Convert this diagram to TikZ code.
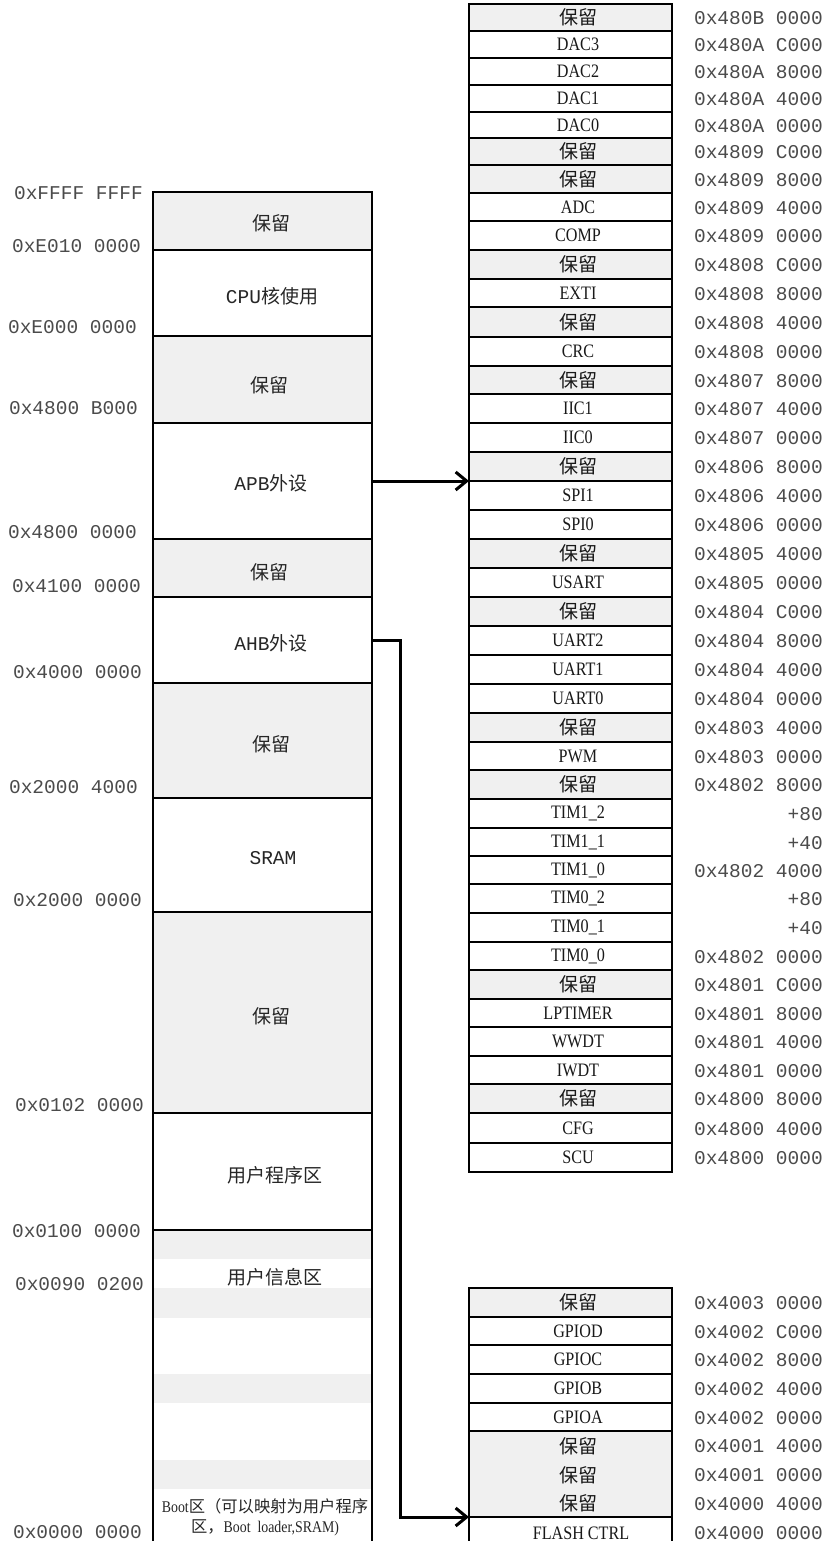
\documentclass[tikz,border=0pt]{standalone}
\usepackage{fontspec}
\setmainfont{Liberation Serif}
\setmonofont{Liberation Mono}
\newfontfamily\cjk{Noto Sans CJK SC}
\newfontfamily\nserif[FakeStretch=0.85]{Liberation Serif}
\usetikzlibrary{arrows.meta}
\definecolor{resv}{RGB}{240,240,240}
\definecolor{addrc}{RGB}{75,75,75}
\newcommand\rz{{\cjk\fontsize{19}{20}\selectfont 保留}}
\newcommand\cn[1]{{\cjk\fontsize{19}{20}\selectfont #1}}
\begin{document}
\begin{tikzpicture}[x=1pt,y=-1pt,
  addr/.style={anchor=east, inner sep=0pt, font=\ttfamily\fontsize{19.5}{20}\selectfont, text=addrc},
  ltext/.style={inner sep=0pt, font=\ttfamily\fontsize{19.5}{20}\selectfont, text=black!85},
  rtext/.style={inner sep=0pt, font=\nserif\fontsize{19}{20}\selectfont, text=black!90},
  rcell/.style={draw, line width=1.6pt, minimum width=203pt, anchor=north west, inner sep=0pt, outer sep=0pt},
  lcell/.style={draw, line width=1.6pt, minimum width=219pt, anchor=north west, inner sep=0pt, outer sep=0pt},
  conn/.style={line width=3pt, -{Straight Barb[length=11pt,width=18pt]}}
]
\fill[white] (0,0) rectangle (827,1541);
\useasboundingbox (0,0) rectangle (827,1541);

% ---------------- left memory map ----------------
\foreach \ya/\yb/\f [count=\i] in {192/250/resv,250/336/white,336/423/resv,423/539/white,539/597/resv,597/683/white,683/798/resv,798/912/white,912/1113/resv,1113/1230/white}{
  \pgfmathsetmacro\h{\yb-\ya}
  \node[lcell, fill=\f, minimum height=\h pt] (L\i) at (153,\ya) {};
}
% bottom region with faint stripes
\foreach \ya/\yb in {1230/1259,1288/1318,1374/1403,1460/1489}{
  \fill[resv] (154,\ya) rectangle (371,\yb);
}
\node[lcell, minimum height=320pt] (L11) at (153,1230) {};

% left labels
\node[ltext] (T1) at (271,223) {\rz};
\node[ltext] (T2) at (272,296) {CPU\cn{核使用}};
\node[ltext] (T3) at (269,385) {\rz};
\node[ltext] (T4) at (271,483) {APB\cn{外设}};
\node[ltext] (T5) at (269,572) {\rz};
\node[ltext] (T6) at (271,643) {AHB\cn{外设}};
\node[ltext] (T7) at (271,744) {\rz};
\node[ltext] (T8) at (273,858) {SRAM};
\node[ltext] (T9) at (271,1016) {\rz};
\node[ltext] (T10) at (275,1175) {\cn{用户程序区}};
\node[ltext] (T11) at (275,1277) {\cn{用户信息区}};
\node[inner sep=0pt, align=center, text=black!85, font=\fontsize{16.3}{20}\selectfont] (boot) at (265,1517)
  {{\nserif Boot}{\cjk 区（可以映射为用户程序}\\{\cjk 区，}{\nserif Boot\ \ loader,SRAM)}};

% left addresses
\node[addr] (A1) at (143,193) {0xFFFF FFFF};
\node[addr] (A2) at (141,246) {0xE010 0000};
\node[addr] (A3) at (137,327) {0xE000 0000};
\node[addr] (A4) at (138,408) {0x4800 B000};
\node[addr] (A5) at (137,532) {0x4800 0000};
\node[addr] (A6) at (141,586) {0x4100 0000};
\node[addr] (A7) at (142,672) {0x4000 0000};
\node[addr] (A8) at (138,787) {0x2000 4000};
\node[addr] (A9) at (142,900) {0x2000 0000};
\node[addr] (A10) at (144,1105) {0x0102 0000};
\node[addr] (A11) at (141,1231) {0x0100 0000};
\node[addr] (A12) at (144,1284) {0x0090 0200};
\node[addr] (A13) at (142,1532) {0x0000 0000};

% ---------------- APB peripheral table ----------------
\foreach \ya/\yb/\t/\f/\ad [count=\i from 0] in {
  4/31/\rz/resv/0x480B 0000,
  31/58/DAC3/white/0x480A C000,
  58/85/DAC2/white/0x480A 8000,
  85/112/DAC1/white/0x480A 4000,
  112/138/DAC0/white/0x480A 0000,
  138/165/\rz/resv/0x4809 C000,
  165/193/\rz/resv/0x4809 8000,
  193/221/ADC/white/0x4809 4000,
  221/250/COMP/white/0x4809 0000,
  250/279/\rz/resv/0x4808 C000,
  279/307/EXTI/white/0x4808 8000,
  307/337/\rz/resv/0x4808 4000,
  337/366/CRC/white/0x4808 0000,
  366/394/\rz/resv/0x4807 8000,
  394/423/IIC1/white/0x4807 4000,
  423/452/IIC0/white/0x4807 0000,
  452/481/\rz/resv/0x4806 8000,
  481/510/SPI1/white/0x4806 4000,
  510/539/SPI0/white/0x4806 0000,
  539/568/\rz/resv/0x4805 4000,
  568/597/USART/white/0x4805 0000,
  597/626/\rz/resv/0x4804 C000,
  626/655/UART2/white/0x4804 8000,
  655/684/UART1/white/0x4804 4000,
  684/713/UART0/white/0x4804 0000,
  713/742/\rz/resv/0x4803 4000,
  742/770/PWM/white/0x4803 0000,
  770/799/\rz/resv/0x4802 8000,
  799/828/TIM1\_2/white/+80,
  828/856/TIM1\_1/white/+40,
  856/884/TIM1\_0/white/0x4802 4000,
  884/913/TIM0\_2/white/+80,
  913/942/TIM0\_1/white/+40,
  942/970/TIM0\_0/white/0x4802 0000,
  970/999/\rz/resv/0x4801 C000,
  999/1027/LPTIMER/white/0x4801 8000,
  1027/1056/WWDT/white/0x4801 4000,
  1056/1084/IWDT/white/0x4801 0000,
  1084/1113/\rz/resv/0x4800 8000,
  1113/1143/CFG/white/0x4800 4000,
  1143/1172/SCU/white/0x4800 0000}{
  \pgfmathsetmacro\h{\yb-\ya}
  \pgfmathsetmacro\yc{(\ya+\yb)/2}
  \node[rcell, fill=\f, minimum height=\h pt] (R\i) at (469,\ya) {};
  \node[rtext] (RT\i) at (578,\yc) {\t};
  \node[addr] (RA\i) at (823,\yc+1) {\ad};
}

% ---------------- AHB peripheral table ----------------
\foreach \ya/\yb/\t/\f/\ad [count=\i from 0] in {
  1288/1317/\rz/resv/0x4003 0000,
  1317/1345/GPIOD/white/0x4002 C000,
  1345/1374/GPIOC/white/0x4002 8000,
  1374/1403/GPIOB/white/0x4002 4000,
  1403/1431/GPIOA/white/0x4002 0000}{
  \pgfmathsetmacro\h{\yb-\ya}
  \pgfmathsetmacro\yc{(\ya+\yb)/2}
  \node[rcell, fill=\f, minimum height=\h pt] (B\i) at (469,\ya) {};
  \node[rtext] (BT\i) at (578,\yc) {\t};
  \node[addr] (BA\i) at (823,\yc+1) {\ad};
}
\node[rcell, fill=resv, minimum height=86pt] (B5) at (469,1431) {};
\node[rtext] (BT5) at (578,1446) {\rz};
\node[rtext] (BT6) at (578,1475) {\rz};
\node[rtext] (BT7) at (578,1503) {\rz};
\node[addr] (BA5) at (823,1446) {0x4001 4000};
\node[addr] (BA6) at (823,1475) {0x4001 0000};
\node[addr] (BA7) at (823,1504) {0x4000 4000};
\node[rcell, fill=white, minimum height=35pt] (B8) at (469,1517) {};
\node[rtext] (BT8) at (581,1533) {FLASH CTRL};
\node[addr] (BA8) at (823,1533) {0x4000 0000};

% ---------------- connectors ----------------
\draw[conn] (L4.east) -- (R16.south west);
\coordinate (ahbbend) at (400,640);
\draw[conn] (L6.east) -- (ahbbend) |- (B8.north west);
\end{tikzpicture}
\end{document}
